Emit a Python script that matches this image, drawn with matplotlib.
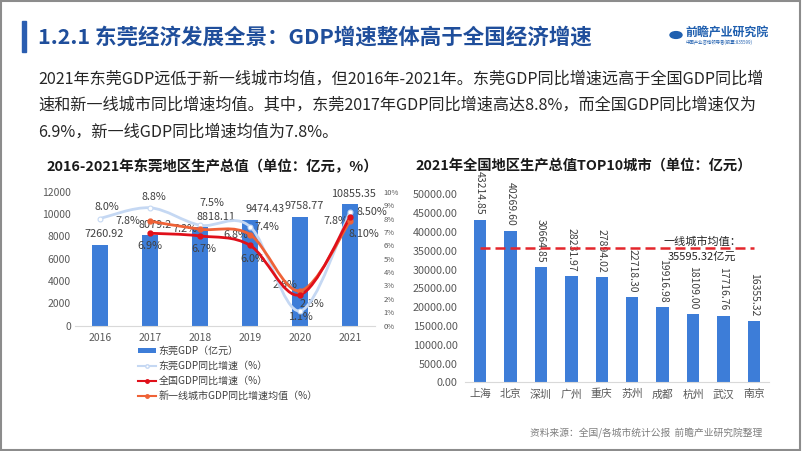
"""
东莞 GDP slide: left combo chart (bars + smoothed growth lines), right top-10 city bars
"""

import matplotlib
matplotlib.use("Agg")
import matplotlib.pyplot as plt
from matplotlib.path import Path
from matplotlib.patches import PathPatch, Rectangle, Patch, Circle
from matplotlib.lines import Line2D
import numpy as np

plt.rcParams['font.family'] = ['Noto Sans CJK SC', 'DejaVu Sans']

# ---- data ----
years = ['2016', '2017', '2018', '2019', '2020', '2021']
dg_gdp = [7260.92, 8079.2, 8818.11, 9474.43, 9758.77, 10855.35]
dg_gdp_lbl = ['7260.92', '8079.2', '8818.11', '9474.43', '9758.77', '10855.35']
dg_growth = [8.0, 8.8, 7.5, 7.4, 1.1, 8.5]          # 2016-2021
cn_growth = [6.9, 6.7, 6.0, 2.3, 8.1]               # 2017-2021
tier1_growth = [7.8, 7.2, 6.8, 2.6, 7.8]            # 2017-2021
dg_growth_lbl = ['8.0%', '8.8%', '7.5%', '7.4%', '1.1%', '8.50%']
cn_growth_lbl = ['6.9%', '6.7%', '6.0%', '2.3%', '8.10%']
tier1_growth_lbl = ['7.8%', '7.2%', '6.8%', '2.6%', '7.8%']

cities = ['上海', '北京', '深圳', '广州', '重庆', '苏州', '成都', '杭州', '武汉', '南京']
city_gdp = [43214.85, 40269.60, 30664.85, 28231.97, 27894.02,
            22718.30, 19916.98, 18109.00, 17716.76, 16355.32]
tier1_avg = 35595.32

# ---- colours ----
BAR = '#3D7DD8'
LIGHT = '#C5D8F3'
RED = '#E0101A'
ORANGE = '#EF6237'
TITLE = '#1F4E9B'
TXT = '#404040'
TICK = '#595959'

W, H = 802, 451


def box(x0, y0, x1, y1):
    # pixel box (top-left origin) -> figure fraction
    return [x0 / W, 1 - y1 / H, (x1 - x0) / W, (y1 - y0) / H]


def smooth_path(xs, ys):
    # Excel-style smoothed line as cubic bezier segments
    pts = list(zip(xs, ys))
    n = len(pts)
    verts, codes = [pts[0]], [Path.MOVETO]
    for i in range(n - 1):
        p0 = pts[i - 1] if i > 0 else pts[i]
        p1, p2 = pts[i], pts[i + 1]
        p3 = pts[i + 2] if i + 2 < n else pts[i + 1]
        c1 = (p1[0] + (p2[0] - p0[0]) / 6, p1[1] + (p2[1] - p0[1]) / 6)
        c2 = (p2[0] - (p3[0] - p1[0]) / 6, p2[1] - (p3[1] - p1[1]) / 6)
        verts += [c1, c2, p2]
        codes += [Path.CURVE4] * 3
    return Path(verts, codes)


fig = plt.figure(figsize=(W / 100, H / 100), dpi=100)
fig.patch.set_facecolor('white')

# frame + header bar
fig.patches.append(Rectangle((0.001, 0.002), 0.997, 0.996, transform=fig.transFigure,
                             fill=False, edgecolor='#8C8C8C', lw=1.5))
fig.patches.append(Rectangle((22 / W, 1 - 52 / H), 4 / W, 31 / H, transform=fig.transFigure,
                             color='#2A5DB0'))
fig.text(38 / W, 1 - 37 / H, '1.2.1 东莞经济发展全景：GDP增速整体高于全国经济增速',
         fontsize=15.5, fontweight='bold', color=TITLE, va='center', ha='left')

# logo
fig.patches.append(Circle((676 / W, 1 - 35 / H), 6 / W, transform=fig.transFigure, color='#1F5FAF'))
fig.text(685 / W, 1 - 33 / H, '前瞻产业研究院', fontsize=8.6, fontweight='bold',
         color='#1F5FAF', va='center', ha='left')
fig.text(686 / W, 1 - 42.5 / H, '中国产业咨询领导者(股票:835599)', fontsize=3.2,
         color='#1F5FAF', va='center', ha='left')

para = ['2021年东莞GDP远低于新一线城市均值，但2016年-2021年。东莞GDP同比增速远高于全国GDP同比增',
        '速和新一线城市同比增速均值。其中，东莞2017年GDP同比增速高达8.8%，而全国GDP同比增速仅为',
        '6.9%，新一线GDP同比增速均值为7.8%。']
for i, line in enumerate(para):
    fig.text(38 / W, 1 - (79 + 26.5 * i) / H, line, fontsize=11.6, color='#262626',
             va='center', ha='left')

# ---------- left chart ----------
fig.text(212 / W, 1 - 167 / H, '2016-2021年东莞地区生产总值（单位：亿元，%）',
         fontsize=10.4, fontweight='bold', color='#1A1A1A', ha='center', va='center')

ax = fig.add_axes(box(75, 191.7, 375, 325.7))
x = np.arange(len(years))
ax.bar(x, dg_gdp, width=0.31, color=BAR, zorder=2)
ax.set_xlim(-0.5, len(years) - 0.5)
ax.set_ylim(0, 12000)
ax.set_yticks(range(0, 12001, 2000))
ax.set_xticks(x)
ax.set_xticklabels(years)
for s in ['top', 'left', 'right']:
    ax.spines[s].set_visible(False)
ax.spines['bottom'].set_color('#D9D9D9')
ax.tick_params(axis='both', length=0, labelsize=7.5, colors=TICK)
ax.tick_params(axis='y', pad=3)
ax.tick_params(axis='x', pad=5)

bar_dx = [4, 5, 16, 15, 4, 3]
for xi, v, lb, dx in zip(x, dg_gdp, dg_gdp_lbl, bar_dx):
    ax.annotate(lb, (xi, v), xytext=(dx * 0.72, 4), textcoords='offset points',
                ha='center', va='bottom', fontsize=7.8, color=TXT, zorder=5)

ax2 = ax.twinx()
ax2.set_ylim(0, 10)
ax2.set_yticks(range(0, 11))
ax2.set_yticklabels([f'{i}%' for i in range(0, 11)])
for s in ['top', 'left', 'right', 'bottom']:
    ax2.spines[s].set_visible(False)
ax2.tick_params(axis='y', length=0, labelsize=5.5, colors=TICK, pad=6)

x_late = x[1:]
# label offsets in px (dx, dy) - hand placed like the source
dg_off = [(7, 11), (4, 11), (12, 22), (17, 0), (0, -6), (22, 0)]
cn_off = [(0, -13), (4, -13), (3, -14), (12, -9), (14, -17)]
t1_off = [(-22, 0), (-15, 0), (-14, 0), (-15, 6), (-14, 0)]

for xs, ys, lbls, offs in [(x, dg_growth, dg_growth_lbl, dg_off),
                           (x_late, cn_growth, cn_growth_lbl, cn_off),
                           (x_late, tier1_growth, tier1_growth_lbl, t1_off)]:
    for xi, yi, lb, (dx, dy) in zip(xs, ys, lbls, offs):
        ax2.annotate(lb, (xi, yi), xytext=(dx * 0.72, dy * 0.72), textcoords='offset points',
                     ha='center', va='center', fontsize=7.8, color=TXT, zorder=1)

ax2.add_patch(PathPatch(smooth_path(x, dg_growth), fill=False, edgecolor=LIGHT, lw=2, zorder=3))
ax2.plot(x, dg_growth, 'o', ms=3.5, mfc='white', mec=LIGHT, mew=0.8, zorder=4)
ax2.add_patch(PathPatch(smooth_path(x_late, tier1_growth), fill=False, edgecolor=ORANGE, lw=2, zorder=3))
ax2.plot(x_late, tier1_growth, 'o', ms=3.5, color=ORANGE, zorder=4)
ax2.add_patch(PathPatch(smooth_path(x_late, cn_growth), fill=False, edgecolor=RED, lw=2, zorder=3))
ax2.plot(x_late, cn_growth, 'o', ms=3.5, color=RED, zorder=4)

handles = [Patch(facecolor=BAR, edgecolor='none'),
           Line2D([], [], color=LIGHT, lw=1.5, marker='o', ms=2.5, mfc='white', mec=LIGHT),
           Line2D([], [], color=RED, lw=1.5, marker='o', ms=2.5),
           Line2D([], [], color=ORANGE, lw=1.5, marker='o', ms=2.5)]
labels = ['东莞GDP（亿元）', '东莞GDP同比增速（%）', '全国GDP同比增速（%）', '新一线城市GDP同比增速均值（%）']
fig.legend(handles, labels, loc='upper left', bbox_to_anchor=(138 / W, 1 - 346 / H),
           bbox_transform=fig.transFigure, frameon=False, fontsize=7.2, borderpad=0,
           borderaxespad=0, labelspacing=0.5, handlelength=1.8, handletextpad=0.25,
           handleheight=0.5, labelcolor=TXT)

# ---------- right chart ----------
fig.text(415 / W, 1 - 166 / H, '2021年全国地区生产总值TOP10城市（单位：亿元）',
         fontsize=10.3, fontweight='bold', color='#1A1A1A', ha='left', va='center')

bx = fig.add_axes(box(464.8, 194.3, 769.2, 382.3))
cx = np.arange(len(cities))
bx.bar(cx, city_gdp, width=0.41, color=BAR, zorder=2)
bx.set_xlim(-0.5, len(cities) - 0.5)
bx.set_ylim(0, 50000)
bx.set_yticks(range(0, 50001, 5000))
bx.set_yticklabels([f'{v:.2f}' for v in range(0, 50001, 5000)])
bx.set_xticks(cx)
bx.set_xticklabels(cities)
for s in ['top', 'left', 'right']:
    bx.spines[s].set_visible(False)
bx.spines['bottom'].set_color('#D9D9D9')
bx.tick_params(axis='both', length=0, labelsize=7.8, colors=TICK)
bx.tick_params(axis='y', pad=5)
bx.tick_params(axis='x', pad=5)

for xi, v in zip(cx, city_gdp):
    bx.annotate(f'{v:.2f}', (xi, v), xytext=(0, 3.5), textcoords='offset points',
                rotation=270, ha='center', va='bottom', fontsize=7.5, color=TXT,
                annotation_clip=False)

bx.hlines(tier1_avg, cx[0], cx[-1], colors='#E4262C', linestyles=(0, (4, 2)), lw=1.8, zorder=4)
bx.annotate('一线城市均值：', (7.3, tier1_avg), xytext=(0, 1.5), textcoords='offset points',
            ha='center', va='bottom', fontsize=8, color='#262626')
bx.annotate('35595.32亿元', (7.3, tier1_avg), xytext=(0, -2.5), textcoords='offset points',
            ha='center', va='top', fontsize=8, color='#262626')

fig.text(762 / W, 1 - 433 / H, '资料来源：全国/各城市统计公报  前瞻产业研究院整理',
         fontsize=7, color='#7F7F7F', ha='right', va='center')

fig.savefig('out.png', dpi=100)
